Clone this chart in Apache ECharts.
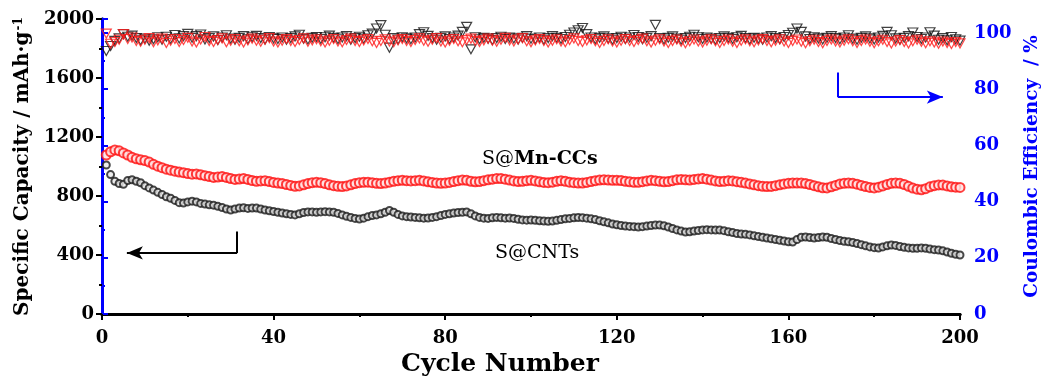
<!DOCTYPE html>
<html>
<head>
<meta charset="utf-8">
<script src="https://cdn.jsdelivr.net/npm/echarts@6/dist/echarts.min.js"></script>
<style>html,body{margin:0;padding:0;background:#fff}#main{width:1043px;height:378px}</style>
</head>
<body>
<div id="main"></div>
<script>
var chartDom = document.getElementById('main');
var myChart = echarts.init(chartDom);
var option;

// cycle numbers 1..200
const cycles = Array.from({ length: 200 }, (_, i) => i + 1);

// specific capacity, mAh/g
const capMnCCs = [
  1078,1100,1112,1106,1092,1078,1062,1052,1045,1040,1030,1015,1002,992,982,975,968,962,958,952,
  948,950,944,938,932,926,928,932,926,918,912,915,918,912,905,900,902,904,898,892,
  888,884,878,872,866,868,876,884,890,893,890,884,876,870,866,864,868,876,884,890,
  893,894,890,886,884,888,894,900,904,906,904,902,904,906,902,896,892,888,886,888,
  892,898,904,908,906,900,896,898,904,910,914,918,918,914,908,902,898,900,904,906,
  902,896,892,890,894,900,904,900,894,890,888,888,892,898,904,908,910,908,906,906,
  905,900,896,893,893,897,902,906,904,900,896,898,904,910,912,910,908,912,916,918,
  914,908,902,898,900,904,902,897,893,888,882,876,870,866,864,865,870,876,882,886,
  888,888,888,884,878,870,862,856,855,862,872,882,886,888,886,880,872,864,858,855,
  860,868,878,886,888,886,878,866,854,846,842,850,862,870,875,874,868,862,860,858
];
const capCNTs = [
  1010,945,900,885,880,905,910,900,890,870,855,840,825,810,795,785,770,755,752,760,
  765,760,750,745,740,738,730,722,712,705,712,718,720,716,718,718,712,705,700,695,
  690,685,680,675,672,680,688,692,692,690,692,694,692,690,682,672,662,655,648,644,
  650,660,668,672,680,690,702,690,675,665,660,658,655,652,650,651,655,660,668,675,
  680,685,688,690,692,680,665,655,650,648,652,655,652,650,651,648,642,638,636,637,
  635,632,630,628,630,635,640,645,648,652,654,653,650,645,640,632,625,618,610,605,
  600,596,594,592,590,592,596,600,603,603,598,590,580,570,562,556,558,562,566,570,
  572,570,569,569,565,558,552,546,542,540,536,530,525,520,515,510,505,500,495,490,
  488,505,520,522,518,515,518,522,520,512,505,498,493,490,485,478,470,462,455,450,
  447,455,462,468,465,458,452,448,446,445,448,446,440,436,434,428,420,412,405,400
];

// coulombic efficiency, %
const ceCNTs = [
  93.6,95.4,97.2,98.1,99.6,98.7,99.1,98.2,97.4,98.0,97.3,97.8,98.5,97.6,98.7,97.9,99.3,98.1,98.9,99.7,
  98.3,98.9,99.5,97.7,98.2,98.8,97.5,98.4,99.2,98.0,97.6,98.3,98.9,97.8,98.5,99.0,98.2,97.7,98.6,98.1,
  97.9,98.4,97.6,98.2,98.8,99.4,98.0,97.7,98.3,98.6,97.9,98.5,99.1,98.3,97.8,98.4,98.9,97.6,98.2,98.7,
  98.0,99.2,99.8,101.6,102.8,99.4,94.8,98.2,97.7,98.5,98.1,97.8,98.4,99.6,100.3,99.0,98.2,97.6,98.3,98.8,
  97.9,98.4,99.1,100.4,102.2,94.2,98.5,97.8,98.3,98.0,97.5,98.2,98.7,97.9,98.4,98.1,97.7,98.3,98.9,98.0,
  97.8,98.4,97.6,98.2,98.9,98.3,97.9,98.6,99.4,100.2,101.0,101.8,99.6,98.4,97.8,98.3,98.8,98.1,97.6,98.2,
  98.7,97.9,98.4,99.3,98.6,97.8,98.3,98.9,102.9,98.2,97.7,98.3,98.8,98.0,97.6,98.2,98.7,99.4,98.5,97.9,
  98.4,98.0,97.6,98.2,98.8,98.3,97.9,98.5,99.0,98.2,97.7,98.3,98.0,97.6,98.4,98.9,98.2,97.8,98.6,99.3,
  100.1,101.6,100.4,98.8,97.9,98.5,98.1,97.7,98.3,98.9,98.2,97.8,98.4,99.2,98.0,97.6,98.3,98.8,98.1,97.7,
  98.4,99.0,100.4,99.2,98.1,97.6,98.3,98.9,100.2,98.6,97.9,98.4,100.3,99.1,97.6,98.2,97.4,98.6,97.8,97.3
];
const ceMnCCs = [
  99.8,96.2,96.8,97.6,99.6,97.9,98.4,97.2,96.9,97.6,98.2,96.7,97.4,98.0,96.5,97.3,97.9,96.8,97.5,98.3,
  97.0,96.6,97.7,98.6,97.2,96.8,97.5,98.1,96.7,97.3,97.9,97.1,96.6,97.4,98.0,97.3,96.9,97.6,98.2,97.0,
  96.6,97.3,97.9,97.2,96.8,97.5,98.1,96.9,97.4,97.8,97.1,96.6,97.3,97.9,97.0,96.7,97.5,98.0,97.2,96.8,
  97.4,97.9,97.1,96.5,97.2,97.8,97.0,96.7,97.4,97.9,97.2,96.8,97.5,98.1,97.3,96.9,97.6,98.2,97.0,96.6,
  97.3,97.9,97.1,96.7,97.5,98.0,97.2,96.8,97.4,98.0,97.3,96.9,97.6,98.3,97.4,97.0,97.7,98.2,97.1,96.7,
  97.4,97.9,97.2,96.6,97.3,97.8,97.0,96.7,97.5,98.1,97.2,96.8,97.4,97.9,97.1,96.5,97.2,97.8,97.0,96.6,
  97.3,97.9,97.2,96.8,97.5,98.0,97.1,96.6,97.3,97.8,97.0,96.5,97.2,97.7,96.9,96.4,97.1,97.7,97.0,96.6,
  97.3,97.8,97.1,96.5,97.2,97.7,96.9,96.5,97.3,97.8,97.1,96.7,97.4,97.9,97.2,96.7,97.3,97.8,97.0,96.5,
  97.2,97.7,96.9,96.4,97.1,97.6,96.8,96.4,97.2,97.7,97.0,96.6,97.3,97.8,97.1,96.5,97.2,97.7,96.9,96.4,
  97.1,97.6,96.8,96.3,97.0,97.5,96.8,96.3,97.1,97.6,96.9,96.4,97.1,96.6,96.2,97.0,96.5,96.1,96.8,96.3
];

const pairs = arr => cycles.map((c, i) => [c, arr[i]]);

const serif = 'DejaVu Serif';
const tickFont = { fontFamily: serif, fontWeight: 'bold', fontSize: 18, color: '#000' };
const plain = v => String(v);

option = {
    animation: false,
    backgroundColor: '#fff',
    grid: { left: 102, right: 83, top: 19, bottom: 64, outerBoundsMode: 'none', containLabel: false },
    xAxis: [
        {
            type: 'value', min: 0, max: 200, interval: 40,
            name: 'Cycle Number', nameLocation: 'middle', nameGap: 35,
            nameTextStyle: { fontFamily: serif, fontWeight: 'bold', fontSize: 25, color: '#000', padding: [0, 62, 0, 0] },
            axisLine: { lineStyle: { color: '#000', width: 3 } },
            axisTick: { inside: false, length: 6, lineStyle: { color: '#000', width: 2 } },
            minorTick: { show: true, splitNumber: 2, length: 3, lineStyle: { color: '#000', width: 2 } },
            splitLine: { show: false },
            axisLabel: Object.assign({ margin: 15, formatter: plain }, tickFont)
        },
        {
            type: 'value', min: 0, max: 200, position: 'top',
            axisLine: { show: true, lineStyle: { color: '#000', width: 3 } },
            axisTick: { show: false }, axisLabel: { show: false }, splitLine: { show: false }
        }
    ],
    yAxis: [
        {
            type: 'value', min: 0, max: 2000, interval: 400,
            name: 'Specific Capacity / mAh·g{sup|-1}', nameLocation: 'middle', nameGap: 56,
            nameTextStyle: {
                fontFamily: serif, fontWeight: 'bold', fontSize: 20, color: '#000',
                rich: { sup: { fontFamily: serif, fontWeight: 'bold', fontSize: 12, color: '#000', padding: [0, 0, 9, 1] } }
            },
            axisLine: { show: true, lineStyle: { color: '#000', width: 3 } },
            axisTick: { inside: false, length: 6, lineStyle: { color: '#000', width: 2 } },
            minorTick: { show: true, splitNumber: 2, length: 3, lineStyle: { color: '#000', width: 2 } },
            splitLine: { show: false },
            axisLabel: Object.assign({ margin: 8, formatter: plain }, tickFont)
        },
        {
            type: 'value', min: 0, max: 105, interval: 20, position: 'right',
            name: 'Coulombic Efficiency  / %', nameLocation: 'middle', nameGap: 56, nameRotate: 90,
            nameTextStyle: { fontFamily: serif, fontWeight: 'bold', fontSize: 18.5, color: '#0000ff' },
            axisLine: { show: true, lineStyle: { color: '#0000ff', width: 3 } },
            axisTick: { inside: false, length: 6, lineStyle: { width: 2, color: '#0000ff' } },
            minorTick: { show: true, splitNumber: 2, length: 3, lineStyle: { color: '#0000ff', width: 2 } },
            splitLine: { show: false },
            axisLabel: Object.assign({}, tickFont, { margin: 14, color: '#0000ff',
                formatter: v => (v > 100 ? '' : String(v)) })
        }
    ],
    series: [
        {
            name: 'S@CNTs CE', type: 'scatter', yAxisIndex: 1, silent: true,
            symbol: 'triangle', symbolRotate: 180, symbolSize: [10, 9],
            itemStyle: { color: 'rgba(255,255,255,0)', borderColor: '#111', borderWidth: 1.2 },
            data: pairs(ceCNTs)
        },
        {
            name: 'S@Mn-CCs CE', type: 'scatter', yAxisIndex: 1, silent: true,
            symbol: 'triangle', symbolRotate: 180, symbolSize: [10, 9],
            itemStyle: { color: 'rgba(255,255,255,0)', borderColor: '#ff1a1a', borderWidth: 1.2 },
            data: pairs(ceMnCCs),
            markLine: {
                silent: true, animation: false, symbol: 'none', symbolSize: [10, 16],
                label: { show: false },
                lineStyle: { color: '#0000ff', width: 2, type: 'solid' },
                data: [
                    [{ coord: [171.5, 86] }, { coord: [171.5, 77.2] }],
                    [{ coord: [171.5, 77.2] }, { coord: [196, 77.2], symbol: 'arrow' }]
                ]
            }
        },
        {
            name: 'S@CNTs', type: 'scatter', silent: true,
            symbol: 'circle', symbolSize: 7,
            itemStyle: { color: '#e8e8e8', borderColor: '#1a1a1a', borderWidth: 2 },
            data: pairs(capCNTs),
            markLine: {
                silent: true, animation: false, symbol: 'none', symbolSize: [10, 16],
                label: { show: false },
                lineStyle: { color: '#000', width: 2, type: 'solid' },
                data: [
                    [{ coord: [31.5, 560] }, { coord: [31.5, 414] }],
                    [{ coord: [31.5, 414] }, { coord: [5.8, 414], symbol: 'arrow' }]
                ]
            }
        },
        {
            name: 'S@Mn-CCs', type: 'scatter', silent: true,
            symbol: 'circle', symbolSize: 9,
            itemStyle: { color: '#ffe0e0', borderColor: '#ff1010', borderWidth: 2 },
            data: pairs(capMnCCs)
        }
    ],
    graphic: {
        elements: [
            {
                type: 'text', left: 482, top: 150,
                style: {
                    text: '{n|S@}{b|Mn-CCs}',
                    rich: {
                        n: { fontFamily: serif, fontSize: 19, fill: '#000' },
                        b: { fontFamily: serif, fontSize: 19, fontWeight: 'bold', fill: '#000' }
                    }
                },
                z: 100
            },
            {
                type: 'text', left: 495, top: 244,
                style: { text: 'S@CNTs', font: '19px "DejaVu Serif"', fill: '#000' },
                z: 100
            }
        ]
    }
};

myChart.setOption(option);
</script>
</body>
</html>
